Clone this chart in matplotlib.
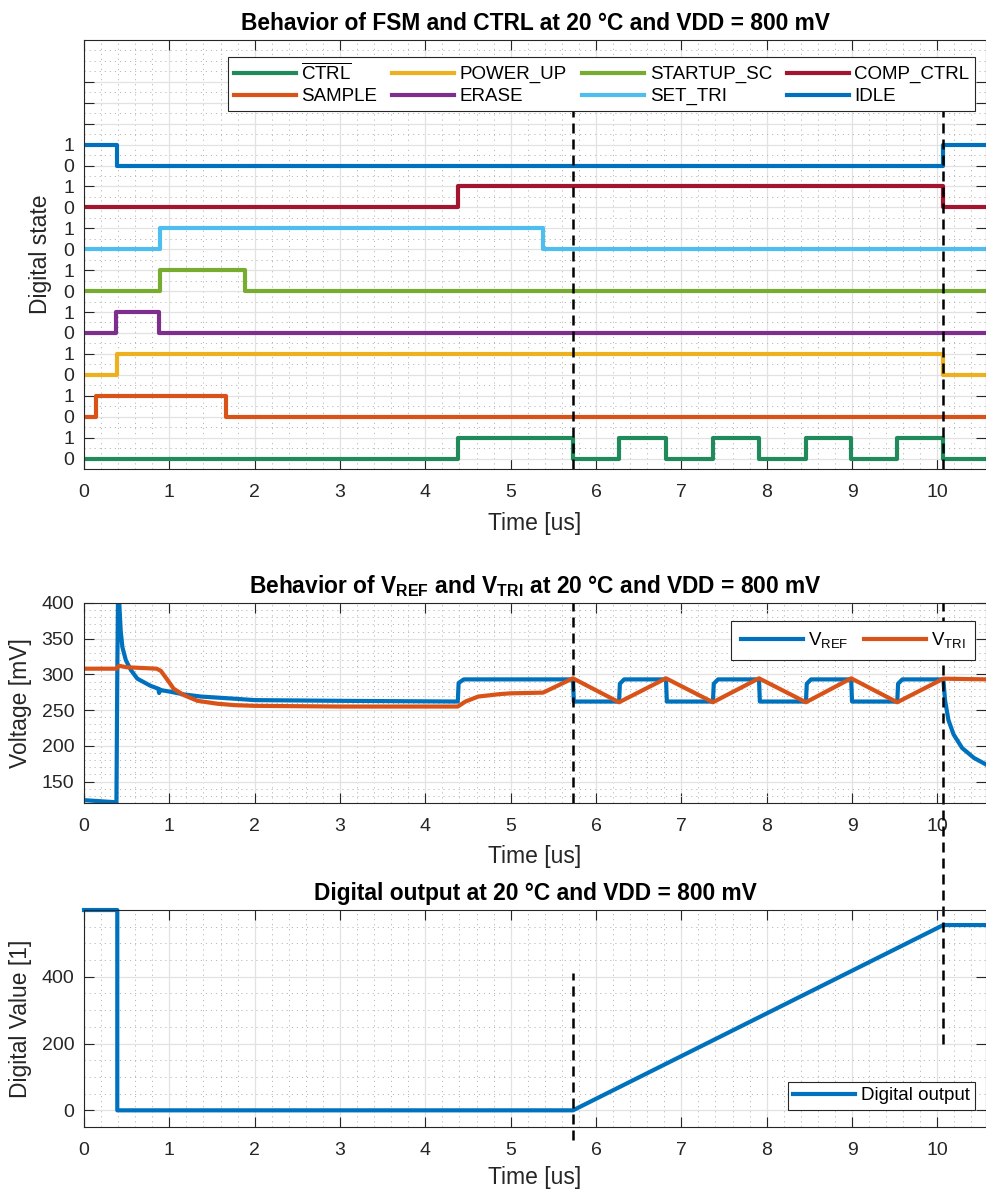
import matplotlib
matplotlib.use("Agg")
import matplotlib.pyplot as plt
from matplotlib.ticker import MultipleLocator, FixedLocator
import numpy as np

plt.rcParams['font.family'] = ['Liberation Sans', 'DejaVu Sans']
plt.rcParams['mathtext.fontset'] = 'custom'
plt.rcParams['mathtext.rm'] = 'Liberation Sans'
plt.rcParams['mathtext.bf'] = 'Liberation Sans:bold'
plt.rcParams['mathtext.it'] = 'Liberation Sans:italic'

# --- FSM / control signals (time in us, level 0/1) ---
CTRL_T = [0, 4.38, 5.73, 6.27, 6.82, 7.37, 7.91, 8.46, 8.99, 9.53, 10.07, 10.6]
CTRL_V = [0, 1, 0, 1, 0, 1, 0, 1, 0, 1, 0, 0]
SAMPLE_T = [0, 0.14, 1.66, 10.6]
SAMPLE_V = [0, 1, 0, 0]
POWER_UP_T = [0, 0.39, 10.07, 10.6]
POWER_UP_V = [0, 1, 0, 0]
ERASE_T = [0, 0.38, 0.88, 10.6]
ERASE_V = [0, 1, 0, 0]
STARTUP_SC_T = [0, 0.89, 1.89, 10.6]
STARTUP_SC_V = [0, 1, 0, 0]
SET_TRI_T = [0, 0.89, 5.38, 10.6]
SET_TRI_V = [0, 1, 0, 0]
COMP_CTRL_T = [0, 4.38, 10.07, 10.6]
COMP_CTRL_V = [0, 1, 0, 0]
IDLE_T = [0, 0.39, 10.07, 10.6]
IDLE_V = [1, 0, 1, 1]

signals = [
    (r'$\overline{\mathrm{CTRL}}$', CTRL_T, CTRL_V, '#208a5b'),
    ('SAMPLE', SAMPLE_T, SAMPLE_V, '#D95319'),
    ('POWER_UP', POWER_UP_T, POWER_UP_V, '#EDB120'),
    ('ERASE', ERASE_T, ERASE_V, '#7E2F8E'),
    ('STARTUP_SC', STARTUP_SC_T, STARTUP_SC_V, '#77AC30'),
    ('SET_TRI', SET_TRI_T, SET_TRI_V, '#4DBEEE'),
    ('COMP_CTRL', COMP_CTRL_T, COMP_CTRL_V, '#A2142F'),
    ('IDLE', IDLE_T, IDLE_V, '#0072BD'),
]

# --- reference and triangle voltages (mV) ---
VREF_T = [0, 0.38, 0.39, 0.40, 0.43, 0.45, 0.49, 0.55, 0.625, 0.78, 0.87, 0.88, 0.89, 0.9,
          1.0, 1.17, 1.37, 1.76, 2.0, 3.0, 4.38,
          4.39, 4.45, 5.73, 5.74, 6.27, 6.28, 6.33, 6.82, 6.83, 7.37, 7.38, 7.43,
          7.91, 7.92, 8.46, 8.47, 8.52, 8.99, 9.0, 9.53, 9.54, 9.59,
          10.07, 10.09, 10.13, 10.19, 10.29, 10.43, 10.6]
VREF_V = [124, 121, 300, 430, 361, 338, 320, 306, 294, 284, 280, 274, 279, 278,
          276, 272, 269, 266, 264, 263, 262,
          288, 293, 293, 262, 262, 287, 293, 293, 262, 262, 287, 293,
          293, 262, 262, 287, 293, 293, 262, 262, 287, 293,
          293, 264, 236, 216, 197, 183, 172]
VTRI_T = [0, 0.38, 0.41, 0.5, 0.85, 0.9, 0.98, 1.05, 1.17, 1.33, 1.56, 1.76, 2.0, 3.0, 4.38,
          4.47, 4.62, 4.88, 5.0, 5.38, 5.73, 6.27, 6.82, 7.37, 7.91, 8.46, 8.99, 9.53,
          10.07, 10.6]
VTRI_V = [308, 308, 312, 310, 308, 305, 292, 280, 271, 263, 259, 257, 256, 255, 255,
          262, 269, 272.5, 273.5, 274.5, 294.5, 261, 294.5, 261, 294.5, 261, 294.5, 261,
          294, 293]

# --- digital output code ---
DOUT_T = [0, 0.39, 0.39, 5.73, 10.07, 10.6]
DOUT_V = [600, 600, 0, 0, 555, 555]

MARK_T = [5.73, 10.07]

TICK_C = '#262626'
DASH = (0, (4, 2.4))
LABEL_FS = 16.5
TITLE_FS = 16.4


def style(ax, ymin_step, xlab_y):
    ax.set_xlim(0, 10.57)
    ax.xaxis.set_major_locator(MultipleLocator(1))
    ax.xaxis.set_minor_locator(MultipleLocator(0.2))
    ax.yaxis.set_minor_locator(MultipleLocator(ymin_step))
    ax.tick_params(which='major', direction='in', top=True, right=True, length=7,
                   width=0.8, color=TICK_C, labelcolor=TICK_C, labelsize=14)
    ax.tick_params(axis='x', pad=11)
    ax.tick_params(axis='y', pad=7)
    ax.tick_params(which='minor', length=0, top=True, right=True)
    ax.grid(which='major', color='#e2e2e2', lw=0.9, ls='-')
    ax.grid(which='minor', color='#b8b8b8', lw=0.7, ls=(0, (1.2, 4)))
    ax.set_axisbelow(True)
    for s in ax.spines.values():
        s.set_color(TICK_C)
        s.set_linewidth(0.8)
    ax.set_xlabel('Time [us]', fontsize=LABEL_FS, color=TICK_C)
    ax.xaxis.set_label_coords(0.5, xlab_y)


fig = plt.figure(figsize=(9.86, 11.93), dpi=100)
ax1 = fig.add_axes([0.0852, 0.6069, 0.9148, 0.3596])
ax2 = fig.add_axes([0.0852, 0.3269, 0.9148, 0.1677])
ax3 = fig.add_axes([0.0852, 0.0553, 0.9148, 0.1819])

legend_kw = dict(borderaxespad=0, fontsize=13.5, handlelength=3.3, handletextpad=0.3,
                 columnspacing=0.8, fancybox=False, framealpha=1, edgecolor=TICK_C)

# FSM states, stacked with an offset of 2 per signal
for i, (name, t, v, c) in enumerate(signals):
    ax1.step(t, np.array(v) + 2 * i, where='post', color=c, lw=3, label=name)
for xm in MARK_T:
    ax1.plot([xm, xm], [-0.5, 17], color='k', lw=1.8, ls=DASH, zorder=3)
ax1.set_ylim(-0.5, 20)
ax1.yaxis.set_major_locator(FixedLocator(range(0, 19)))
ax1.set_yticklabels([str(k % 2) if k < 16 else '' for k in range(0, 19)])
style(ax1, 0.5, -0.100)
ax1.set_ylabel('Digital state', fontsize=LABEL_FS, color=TICK_C)
ax1.yaxis.set_label_coords(-0.0355, 0.5)
ax1.set_title('Behavior of FSM and CTRL at 20 °C and VDD = 800 mV',
              fontsize=TITLE_FS, fontweight='bold', pad=7)
leg = ax1.legend(loc='upper right', bbox_to_anchor=(0.988, 0.9604), ncol=4,
                 labelspacing=0.25, borderpad=0.3, **legend_kw)
leg.get_frame().set_linewidth(0.8)
leg.set_zorder(5)

# reference / triangle voltages
ax2.plot(VREF_T, VREF_V, color='#0072BD', lw=3, label=r'V$_{\mathrm{REF}}$')
ax2.plot(VTRI_T, VTRI_V, color='#D95319', lw=3, label=r'V$_{\mathrm{TRI}}$')
for xm in MARK_T:
    ax2.axvline(xm, color='k', lw=1.8, ls=DASH, zorder=3)
ax2.set_ylim(120, 400)
ax2.yaxis.set_major_locator(MultipleLocator(50))
style(ax2, 10, -0.21)
ax2.set_ylabel('Voltage [mV]', fontsize=LABEL_FS, color=TICK_C)
ax2.yaxis.set_label_coords(-0.0576, 0.5)
ax2.set_title(r'Behavior of V$_{\mathbf{REF}}$ and V$_{\mathbf{TRI}}$ at 20 °C and VDD = 800 mV',
              fontsize=TITLE_FS, fontweight='bold', pad=7)
leg = ax2.legend(loc='upper right', bbox_to_anchor=(0.988, 0.91), ncol=2,
                 borderpad=0.5, **legend_kw)
leg.get_frame().set_linewidth(0.8)

# digital output code
ax3.plot(DOUT_T, DOUT_V, color='#0072BD', lw=3, label='Digital output', clip_on=False)
ax3.plot([MARK_T[0]] * 2, [-90, 410], color='k', lw=1.8, ls=DASH, clip_on=False)
ax3.plot([MARK_T[1]] * 2, [200, 921], color='k', lw=1.8, ls=DASH, clip_on=False)
ax3.set_ylim(-50, 600)
ax3.yaxis.set_major_locator(FixedLocator([0, 200, 400]))
style(ax3, 50, -0.18)
ax3.set_ylabel('Digital Value [1]', fontsize=LABEL_FS, color=TICK_C)
ax3.yaxis.set_label_coords(-0.0576, 0.5)
ax3.set_title('Digital output at 20 °C and VDD = 800 mV', fontsize=TITLE_FS,
              fontweight='bold', pad=7)
leg = ax3.legend(loc='lower right', bbox_to_anchor=(0.988, 0.078), borderpad=0.3,
                 **legend_kw)
leg.get_frame().set_linewidth(0.8)

fig.savefig('out.png', dpi=100)
